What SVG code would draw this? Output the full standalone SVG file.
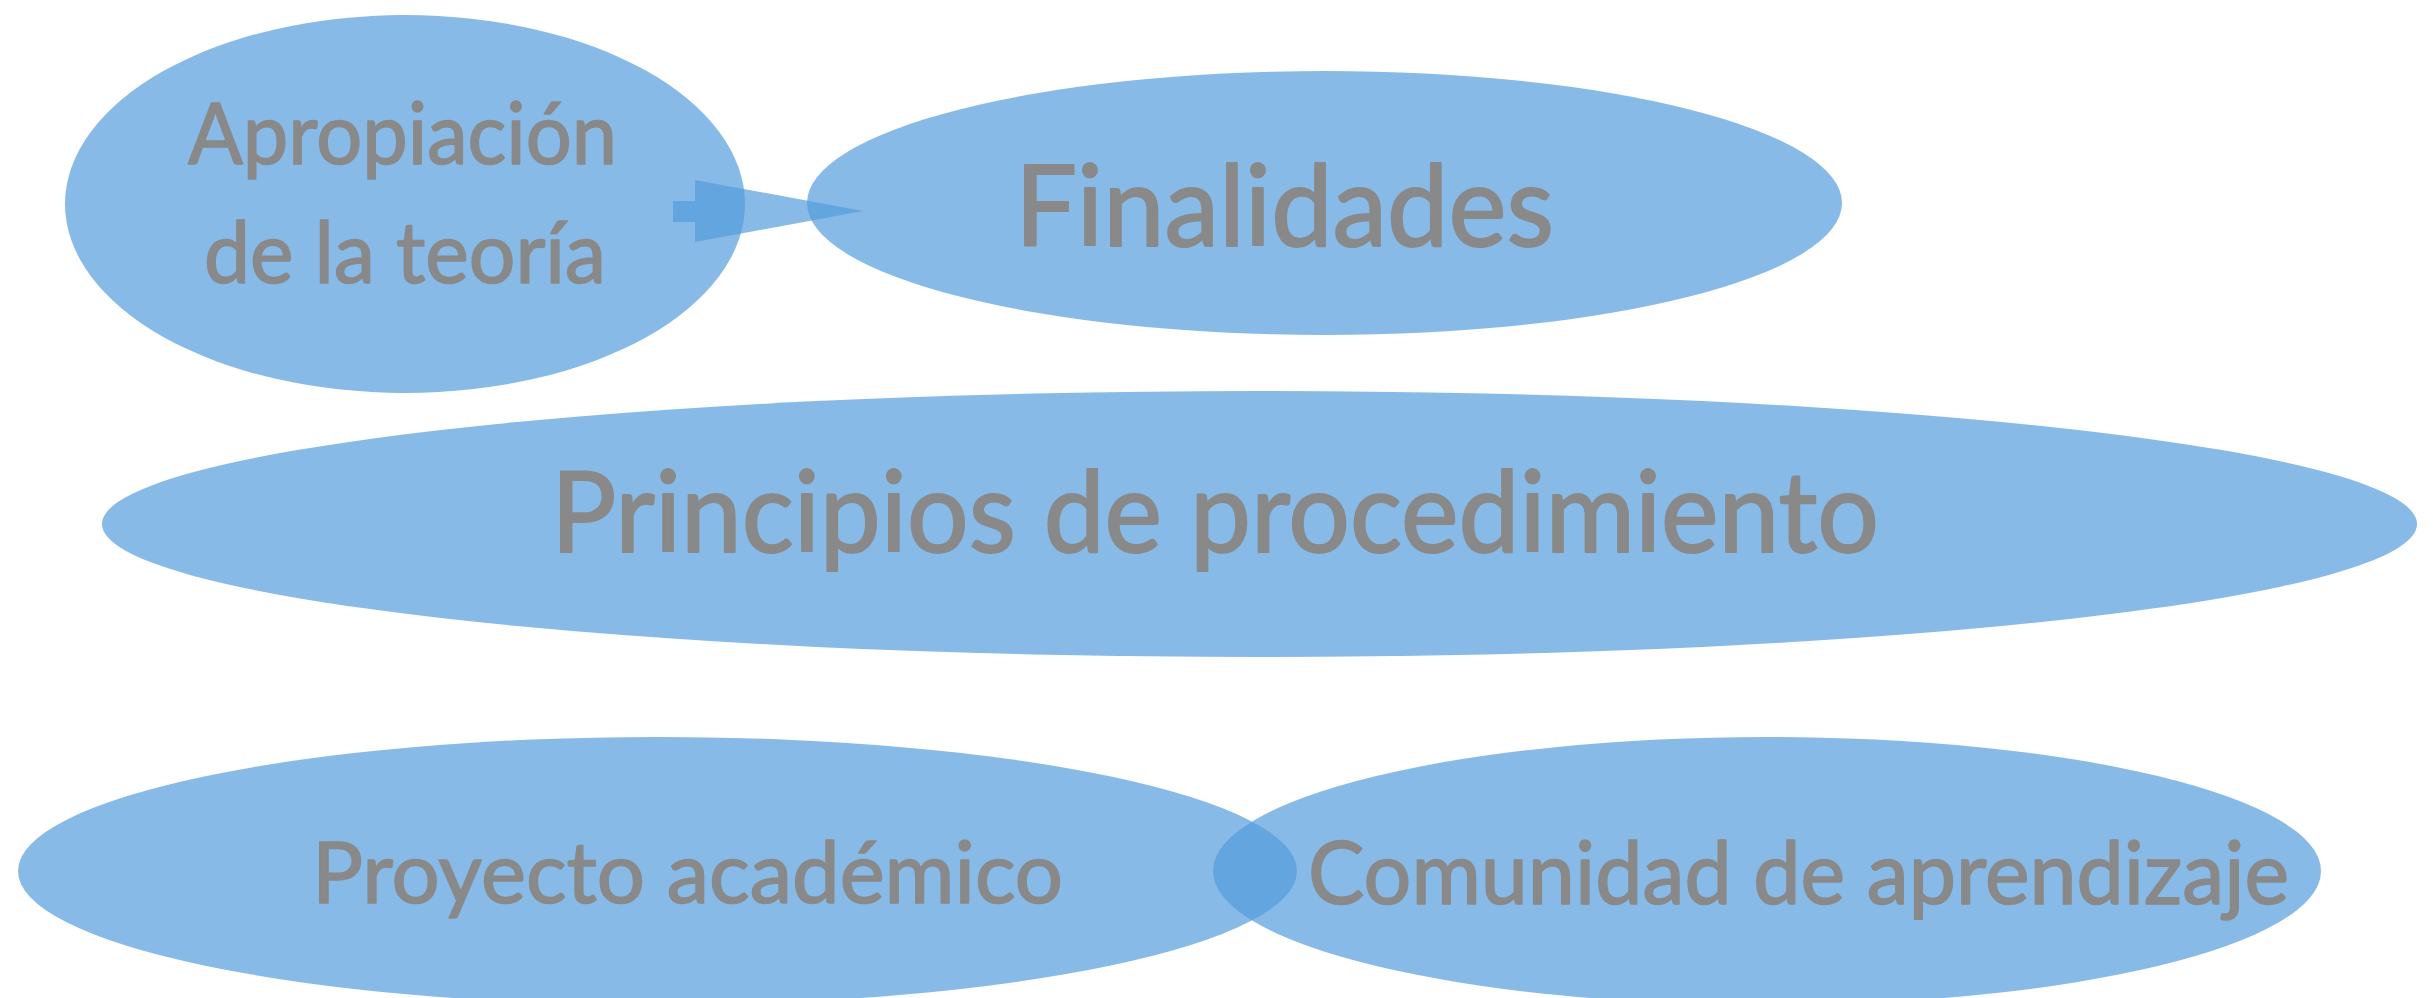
<svg xmlns="http://www.w3.org/2000/svg" width="2433" height="998" viewBox="0 0 2433 998">
  <style>
    .shape { fill: #549DDC; fill-opacity: 0.7; }
    .label { font-family: Lato, "Noto Sans", "Liberation Sans", sans-serif; fill: #898989; stroke: #898989; stroke-width: 1.6; stroke-linejoin: round; text-anchor: middle; }
    .big { stroke-width: 2; }
  </style>
  <rect x="0" y="0" width="2433" height="998" fill="#FFFFFF"/>
  <g id="node-apropiacion">
    <ellipse class="shape" cx="405" cy="204" rx="340" ry="189"/>
    <text class="label" x="402.5" y="164" font-size="85" textLength="429" lengthAdjust="spacingAndGlyphs">Apropiación</text>
    <text class="label" x="405" y="283" font-size="85" textLength="402" lengthAdjust="spacingAndGlyphs">de la teoría</text>
  </g>
  <g id="node-finalidades">
    <ellipse class="shape" cx="1324.5" cy="203" rx="517.5" ry="132"/>
    <text class="label big" x="1284.5" y="246" font-size="113" textLength="539" lengthAdjust="spacingAndGlyphs">Finalidades</text>
  </g>
  <g id="node-principios">
    <ellipse class="shape" cx="1259.5" cy="524" rx="1157.5" ry="133"/>
    <text class="label big" x="1215" y="552" font-size="112" textLength="1328" lengthAdjust="spacingAndGlyphs">Principios de procedimiento</text>
  </g>
  <g id="node-proyecto">
    <ellipse class="shape" cx="657.5" cy="871" rx="639.5" ry="134"/>
    <text class="label" x="687.5" y="903" font-size="86" textLength="751" lengthAdjust="spacingAndGlyphs">Proyecto académico</text>
  </g>
  <g id="node-comunidad">
    <ellipse class="shape" cx="1767" cy="871" rx="554" ry="134"/>
    <text class="label" x="1798.5" y="904" font-size="87" textLength="981" lengthAdjust="spacingAndGlyphs">Comunidad de aprendizaje</text>
  </g>
  <g id="connectors">
    <polygon class="shape" points="673,201 695,201 695,180 863,211 695,242 695,222 673,222"/>
  </g>
</svg>
